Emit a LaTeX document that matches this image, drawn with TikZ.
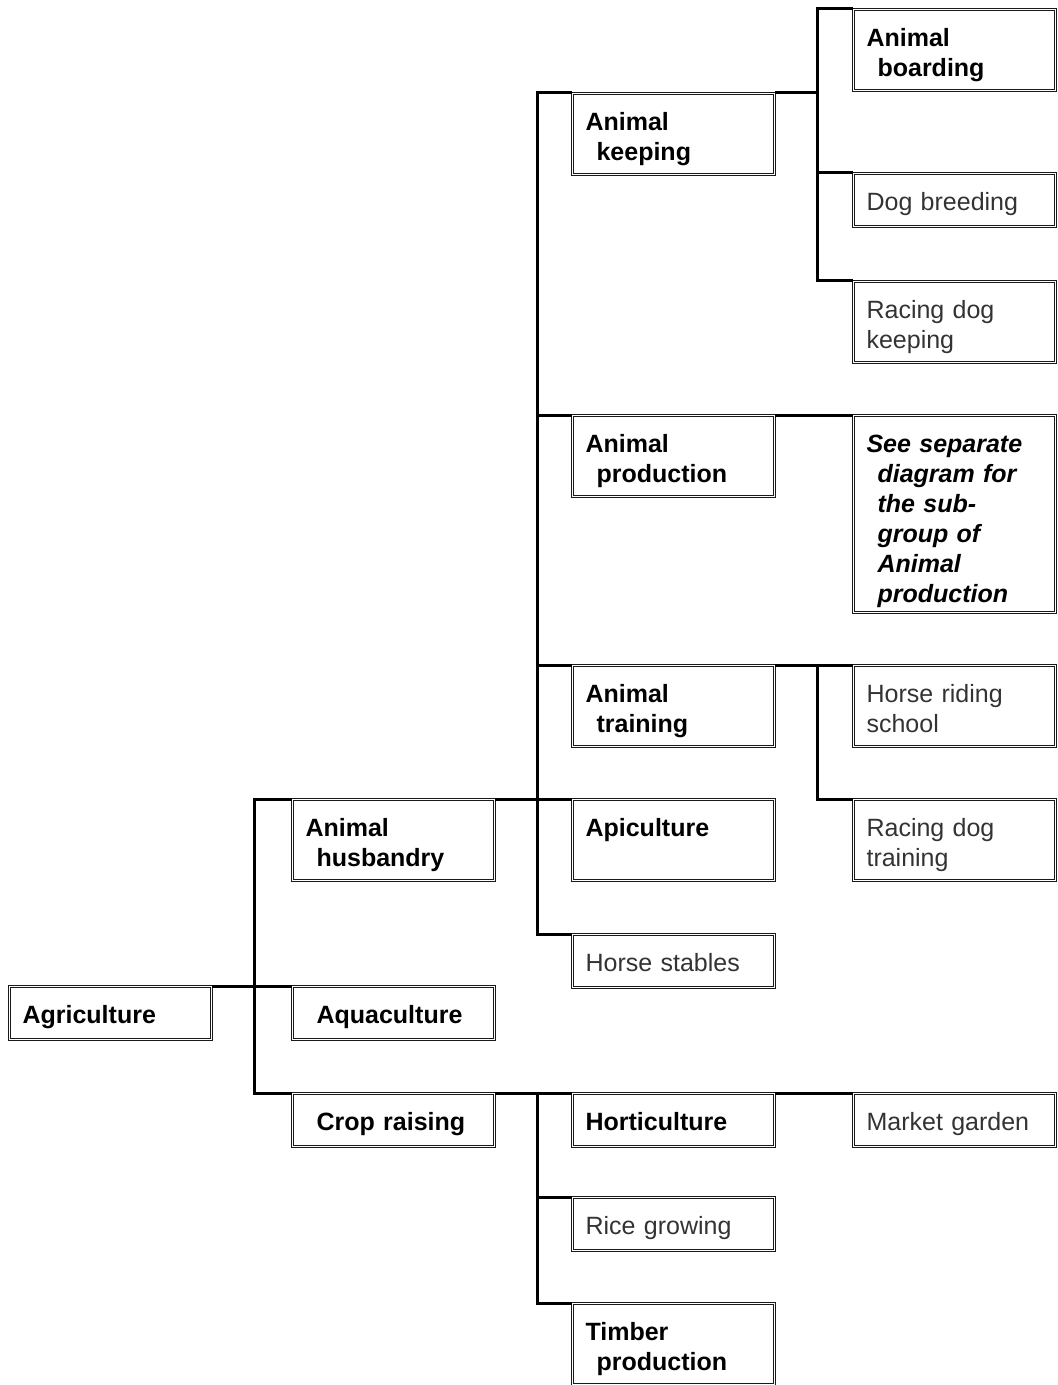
\documentclass[tikz,border=0pt]{standalone}
\usepackage{fontspec}
\setmainfont{Liberation Sans}
\usepackage{tikz}
\tikzset{
    catbox/.style={rectangle, draw=black!90, double, double distance=0.5pt, line width=0.55pt, anchor=north west, align=left, inner xsep=6.5pt, inner ysep=0pt, text width=88pt, text height=18.5pt, font=\fontsize{12.5}{15}\selectfont\bfseries},
    leafbox/.style={catbox, text=black!80, font=\fontsize{12.5}{15}\selectfont},
    notebox/.style={catbox, font=\fontsize{12.5}{15}\selectfont\bfseries\itshape},
    oneline/.style={text depth=8pt},
    twoline/.style={text depth=22pt},
    noteheight/.style={text depth=80pt},
    link/.style={line width=1.5pt, black},
}
\newcommand{\ind}{\hspace*{5.5pt}}

\begin{document}
\begin{tikzpicture}[x=0.5pt, y=-0.5pt]
    \useasboundingbox (0,0) rectangle (1057,1385);
    % level 1 and 2
    \node[catbox, oneline] (agri) at (9,986) {Agriculture};
    \node[catbox, twoline] (husb) at (292,799) {Animal\\\ind husbandry};
    \node[catbox, oneline] (aqua) at (292,986) {\ind Aquaculture};
    \node[catbox, oneline] (crop) at (292,1093) {\ind Crop raising};

    % level 3
    \node[catbox, twoline] (keep) at (572,93) {Animal\\\ind keeping};
    \node[catbox, twoline] (prod) at (572,415) {Animal\\\ind production};
    \node[catbox, twoline] (train) at (572,665) {Animal\\\ind training};
    \node[catbox, twoline] (api) at (572,799) {Apiculture};
    \node[leafbox, oneline] (stables) at (572,934) {Horse stables};
    \node[catbox, oneline] (horti) at (572,1093) {Horticulture};
    \node[leafbox, oneline] (rice) at (572,1197) {Rice growing};
    \node[catbox, twoline] (timber) at (572,1303) {Timber\\\ind production};

    % level 4
    \node[catbox, twoline] (board) at (853,9) {Animal\\\ind boarding};
    \node[leafbox, oneline] (dogbreed) at (853,173) {Dog breeding};
    \node[leafbox, twoline] (racekeep) at (853,281) {Racing dog\\keeping};
    \node[notebox, noteheight] (sep) at (853,415) {See separate\\\ind diagram for\\\ind the sub-\\\ind group of\\\ind Animal\\\ind production};
    \node[leafbox, twoline] (riding) at (853,665) {Horse riding\\school};
    \node[leafbox, twoline] (racetrain) at (853,799) {Racing dog\\training};
    \node[leafbox, oneline] (market) at (853,1093) {Market garden};

    \draw[link] (agri.north east) -- ++(21pt,0) |- (husb.north west);
    \draw[link] (agri.north east) -- ++(21pt,0) |- (aqua.north west);
    \draw[link] (agri.north east) -- ++(21pt,0) |- (crop.north west);
    \draw[link] (husb.north east) -- ++(21pt,0) |- (keep.north west);
    \draw[link] (husb.north east) -- ++(21pt,0) |- (prod.north west);
    \draw[link] (husb.north east) -- ++(21pt,0) |- (train.north west);
    \draw[link] (husb.north east) -- ++(21pt,0) |- (api.north west);
    \draw[link] (husb.north east) -- ++(21pt,0) |- (stables.north west);
    \draw[link] (crop.north east) -- ++(21pt,0) |- (horti.north west);
    \draw[link] (crop.north east) -- ++(21pt,0) |- (rice.north west);
    \draw[link] (crop.north east) -- ++(21pt,0) |- (timber.north west);
    \draw[link] (keep.north east) -- ++(21pt,0) |- (board.north west);
    \draw[link] (keep.north east) -- ++(21pt,0) |- (dogbreed.north west);
    \draw[link] (keep.north east) -- ++(21pt,0) |- (racekeep.north west);
    \draw[link] (prod.north east) -- (sep.north west);
    \draw[link] (train.north east) -- ++(21pt,0) |- (riding.north west);
    \draw[link] (train.north east) -- ++(21pt,0) |- (racetrain.north west);
    \draw[link] (horti.north east) -- (market.north west);
\end{tikzpicture}
\end{document}
